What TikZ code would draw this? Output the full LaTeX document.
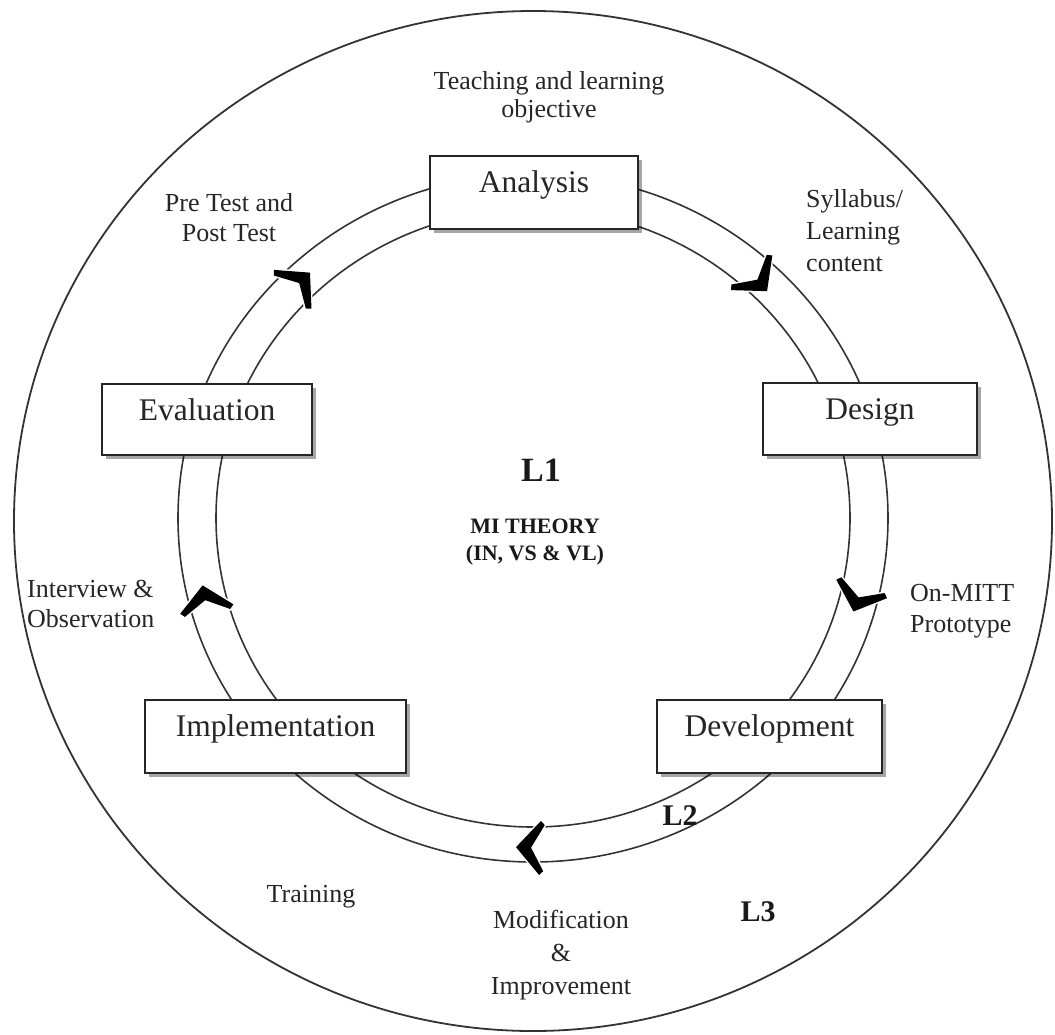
\documentclass[tikz,border=0pt]{standalone}
\usepackage{fontspec}
\setmainfont{Liberation Serif}
\usetikzlibrary{shadows,calc}
\begin{document}
\begin{tikzpicture}[x=1pt,y=-1pt,
  ringline/.style={draw=black!80, line width=1.6pt},
  box/.style={draw=black!85, line width=1.8pt, fill=white, inner sep=0pt,
    drop shadow={shadow xshift=4pt, shadow yshift=-4pt, fill=black, opacity=0.35}},
  boxtext/.style={font=\fontsize{31.5}{36}\selectfont, text=black!85, anchor=base, inner sep=0pt},
  lbl/.style={font=\fontsize{26}{31}\selectfont, text=black!85, inner sep=0pt},
  bold/.style={font=\fontsize{#1}{#1}\selectfont\bfseries, text=black!90, inner sep=0pt},
  chev/.pic={\fill[black, preaction={draw=white, line width=3pt, line join=miter}]
     (25,0) -- (1,27) -- (-3,23) -- (10,0) -- (-3,-23) -- (1,-27) -- cycle;}
]
\useasboundingbox (0,0) rectangle (1055,1034);
% outer circle
\draw[ringline, line width=1.8pt] (533,521) ellipse [x radius=519pt, y radius=510pt];
% ring
\draw[ringline] (533,518) ellipse [x radius=355pt, y radius=344pt];
\draw[ringline] (533,518) ellipse [x radius=317pt, y radius=309pt];
% boxes
\node[box, minimum width=208pt, minimum height=73pt] (an) at (534,192.5) {};
\node[boxtext] (ant) at ($(an.north)+(0,37.5)$) {Analysis};
\node[box, minimum width=214pt, minimum height=72pt] (de) at (870,419) {};
\node[boxtext] (det) at ($(de.north)+(0,37.5)$) {Design};
\node[box, minimum width=210pt, minimum height=71pt] (ev) at (207,419.5) {};
\node[boxtext] (evt) at ($(ev.north)+(0,37.5)$) {Evaluation};
\node[box, minimum width=225pt, minimum height=73pt] (dv) at (769.5,736.5) {};
\node[boxtext] (dvt) at ($(dv.north)+(0,37.5)$) {Development};
\node[box, minimum width=261pt, minimum height=73pt] (im) at (275.5,736.5) {};
\node[boxtext] (imt) at ($(im.north)+(0,37.5)$) {Implementation};
% chevrons
\pic[rotate=44] at (292,290) {chev};
\pic[rotate=-50] at (751,272) {chev};
\pic[rotate=-110] at (862,588) {chev};
\pic[rotate=178] at (541,848) {chev};
\pic[rotate=100] at (207,610) {chev};
% labels
\node[lbl, align=center] (obj) at (549,97) {Teaching and learning\\[-3pt]objective};
\node[lbl, align=center] (pre) at (229,218) {Pre Test and\\[-1pt]Post Test};
\node[lbl, align=left, anchor=west] (syl) at (806,230.5) {Syllabus/\\[1pt]Learning\\[1pt]content};
\node[lbl, align=left, anchor=west] (int) at (27,604) {Interview \&\\[-1pt]Observation};
\node[lbl, align=left, anchor=west] (onm) at (910,611.5) {On-MITT\\Prototype};
\node[lbl] (trn) at (311,897) {Training};
\node[lbl, align=center] (mod) at (561,955) {Modification\\[2pt]\&\\[2pt]Improvement};
% centre and level labels
\node[bold=34] (l1) at (541,470) {L1};
\node[bold=22, align=center] (mi) at (535,542) {MI THEORY\\[5pt](IN, VS \& VL)};
\node[bold=30] (l2) at (680,816) {L2};
\node[bold=30] (l3) at (758,912) {L3};
\end{tikzpicture}
\end{document}
